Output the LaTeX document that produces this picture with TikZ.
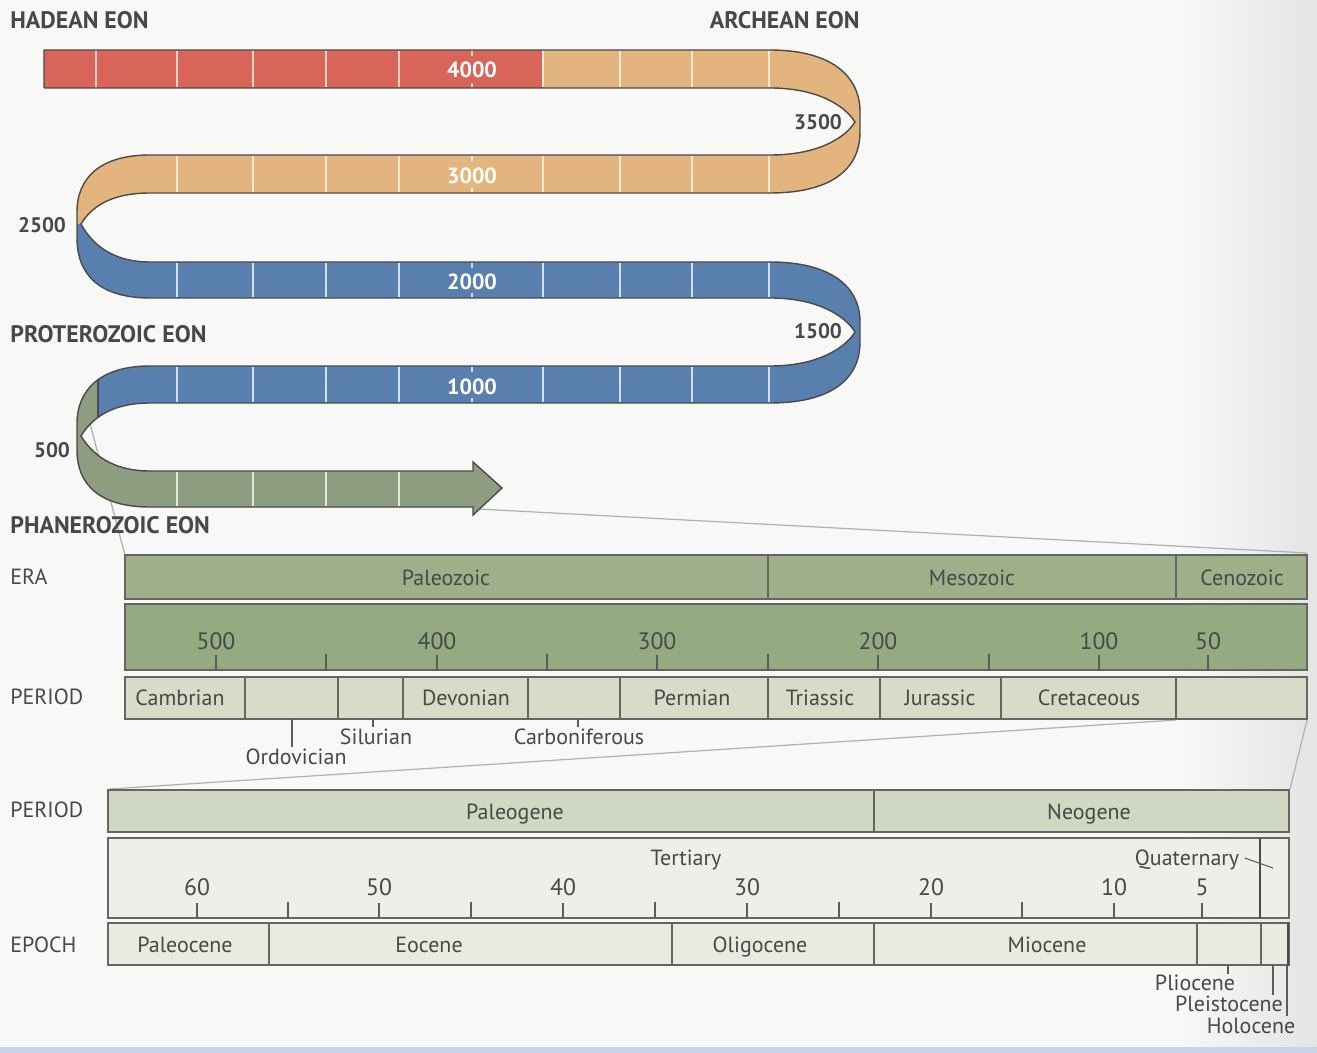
\documentclass[tikz,border=0pt]{standalone}
\usepackage{fontspec}
\setmainfont{PT Sans}
\definecolor{bgcol}{HTML}{F8F8F6}
\definecolor{bgright}{HTML}{E4E5E2}
\definecolor{bottomstrip}{HTML}{C6D6E6}
\definecolor{edge}{HTML}{4A4A4A}
\definecolor{textgrey}{HTML}{484848}
\definecolor{redband}{HTML}{D9645A}
\definecolor{orband}{HTML}{E4B47E}
\definecolor{blueband}{HTML}{587FAE}
\definecolor{grnband}{HTML}{8E9C80}
\definecolor{tickred}{HTML}{F4D2C4}
\definecolor{tickor}{HTML}{FAEBD0}
\definecolor{tickblue}{HTML}{CFE0F4}
\definecolor{tickgrn}{HTML}{E4EAD8}
\definecolor{eracol}{HTML}{9DB08A}
\definecolor{scalecol}{HTML}{94AA81}
\definecolor{percol}{HTML}{D6DCC8}
\definecolor{cperiod}{HTML}{D0D7C2}
\definecolor{cnum}{HTML}{EEEFE8}
\definecolor{cepoch}{HTML}{E8EBE0}
\definecolor{zoomline}{HTML}{B0B2AC}
\begin{document}
\begin{tikzpicture}[x=0.02cm,y=-0.02cm,
  lab/.style={text=textgrey, inner sep=0pt, text height=10pt, text depth=2pt, font=\fontsize{12.5}{14}\selectfont},
  eonlab/.style={text=textgrey, inner sep=0pt, anchor=west, font=\bfseries\fontsize{13.6}{15}\selectfont},
  numlab/.style={text=textgrey, inner sep=0pt, font=\bfseries\fontsize{12}{14}\selectfont},
  bandlab/.style={text=white, inner sep=0pt, font=\bfseries\fontsize{12.5}{14}\selectfont},
  scalelab/.style={text=textgrey, inner sep=0pt, font=\fontsize{13.5}{15}\selectfont},
  sidelab/.style={text=textgrey, inner sep=0pt, anchor=west, font=\fontsize{12.5}{14}\selectfont},
  rib/.style={draw=edge, line width=0.8pt},
  bar/.style={draw=edge!85, line width=0.9pt},
  tk/.style={line width=1pt},
  scaletick/.style={draw=edge!90, line width=0.8pt},
  leader/.style={draw=edge!90, line width=0.6pt},
  zl/.style={draw=zoomline, line width=0.7pt}]
% background
\useasboundingbox (0,0) rectangle (1317,1053);
\fill[bgcol] (0,0) rectangle (1317,1053);
\shade[left color=bgcol, right color=bgright] (1180,0) rectangle (1317,1047);
\fill[bottomstrip] (0,1047) rectangle (1317,1053);

% zoom lines (behind)
\coordinate (zA1) at (89,420);
\coordinate (zA2) at (125,555);
\coordinate (zB1) at (478,509);
\coordinate (zB2) at (1307,553);
\coordinate (zC1) at (1176,720);
\coordinate (zC2) at (110,789);
\coordinate (zD1) at (1307,720);
\coordinate (zD2) at (1290,789);
\draw[zl] (zA1) -- (zA2);
\draw[zl] (zB1) -- (zB2);
\draw[zl] (zC1) -- (zC2);
\draw[zl] (zD1) -- (zD2);

% ---------- ribbon ----------
% row 1
\fill[redband] (44,50) rectangle (543,88);
\fill[orband] (543,50) rectangle (770,88);
% turn A (3500)
\fill[orband] (770,50) .. controls (830,50) and (860,75) .. (860,112) -- (860,122) -- (855,122) .. controls (845,106) and (818,88) .. (770,88) -- cycle;
\fill[orband] (855,122) -- (860,122) -- (860,132) .. controls (860,170) and (830,193) .. (770,193) -- (770,155) .. controls (818,155) and (845,138) .. (855,122) -- cycle;
% row 2
\fill[orband] (150,155) rectangle (770,193);
% turn C (2500)
\fill[orband] (150,155) .. controls (100,155) and (77,178) .. (77,212) -- (77,224) -- (81,224) .. controls (92,206) and (112,193) .. (150,193) -- cycle;
\fill[blueband] (81,224) -- (77,224) -- (77,238) .. controls (77,275) and (100,298) .. (150,298) -- (150,262) .. controls (112,262) and (92,244) .. (81,224) -- cycle;
% row 3
\fill[blueband] (150,262) rectangle (770,298);
% turn B (1500)
\fill[blueband] (770,262) .. controls (830,262) and (860,286) .. (860,322) -- (860,332) -- (855,332) .. controls (845,316) and (818,298) .. (770,298) -- cycle;
\fill[blueband] (855,332) -- (860,332) -- (860,342) .. controls (860,380) and (830,403) .. (770,403) -- (770,366) .. controls (818,366) and (845,348) .. (855,332) -- cycle;
% row 4
\fill[blueband] (150,366) rectangle (770,403);
% turn D (500)
\fill[grnband] (150,366) .. controls (100,366) and (77,390) .. (77,424) -- (77,436) -- (81,436) .. controls (92,418) and (112,403) .. (150,403) -- cycle;
\begin{scope}
\clip (150,366) .. controls (100,366) and (77,390) .. (77,424) -- (77,436) -- (81,436) .. controls (92,418) and (112,403) .. (150,403) -- cycle;
\fill[blueband] (98,350) rectangle (151,420);
\draw[edge, line width=0.8pt] (98,350) -- (98,420);
\end{scope}
\fill[grnband] (81,436) -- (77,436) -- (77,450) .. controls (77,485) and (100,507) .. (150,507) -- (150,471) .. controls (112,471) and (92,454) .. (81,436) -- cycle;
% row 5 arrow
\fill[grnband] (150,471) -- (473,471) -- (473,462) -- (502,488) -- (473,515) -- (473,507) -- (150,507) -- cycle;

% ticks
\foreach \x in {96,177,253,326,399} \draw[tk,tickred] (\x,51) -- (\x,87);
\draw[tk,tickred] (472,51) -- (472,56) (472,83) -- (472,87);
\foreach \x in {543,620,692,769} \draw[tk,tickor] (\x,51) -- (\x,87);
\foreach \x in {177,253,326,399,543,620,692,769} \draw[tk,tickor] (\x,156) -- (\x,192);
\draw[tk,tickor] (472,156) -- (472,161) (472,188) -- (472,192);
\foreach \x in {177,253,326,399,543,620,692,769} \draw[tk,tickblue] (\x,263) -- (\x,297);
\draw[tk,tickblue] (472,263) -- (472,268) (472,293) -- (472,297);
\foreach \x in {177,253,326,399,543,620,692,769} \draw[tk,tickblue] (\x,367) -- (\x,402);
\draw[tk,tickblue] (472,367) -- (472,372) (472,398) -- (472,402);
\foreach \x in {177,253,326,399} \draw[tk,tickgrn] (\x,472) -- (\x,506);

% ribbon outlines
\draw[rib] (44,88) -- (44,50) -- (770,50) .. controls (830,50) and (860,75) .. (860,112) -- (860,132) .. controls (860,170) and (830,193) .. (770,193) -- (150,193);
\draw[rib] (44,88) -- (770,88) .. controls (818,88) and (845,106) .. (855,122) .. controls (845,138) and (818,155) .. (770,155) -- (150,155);
\draw[rib] (150,155) .. controls (100,155) and (77,178) .. (77,212) -- (77,238) .. controls (77,275) and (100,298) .. (150,298) -- (770,298);
\draw[rib] (150,193) .. controls (112,193) and (92,206) .. (81,224) .. controls (92,244) and (112,262) .. (150,262) -- (770,262);
\draw[rib] (770,262) .. controls (830,262) and (860,286) .. (860,322) -- (860,342) .. controls (860,380) and (830,403) .. (770,403) -- (150,403);
\draw[rib] (770,298) .. controls (818,298) and (845,316) .. (855,332) .. controls (845,348) and (818,366) .. (770,366) -- (150,366);
\draw[rib] (150,366) .. controls (100,366) and (77,390) .. (77,424) -- (77,450) .. controls (77,485) and (100,507) .. (150,507) -- (473,507) -- (473,515) -- (502,488) -- (473,462) -- (473,471) -- (150,471);
\draw[rib] (150,403) .. controls (112,403) and (92,418) .. (81,436) .. controls (92,454) and (112,471) .. (150,471);

% ribbon labels
\node[bandlab] (b4000) at (472,70) {4000};
\node[bandlab] (b3000) at (472,176) {3000};
\node[bandlab] (b2000) at (472,282) {2000};
\node[bandlab] (b1000) at (472,387) {1000};
\node[numlab] (n3500) at (818,122) {3500};
\node[numlab] (n2500) at (42,225) {2500};
\node[numlab] (n1500) at (818,331) {1500};
\node[numlab] (n500) at (52,450) {500};
\node[eonlab] (hadean) at (10,20) {HADEAN EON};
\node[eonlab, anchor=east] (archean) at (860,20) {ARCHEAN EON};
\node[eonlab] (protero) at (10,334) {PROTEROZOIC EON};
\node[eonlab] (phanero) at (10,525) {PHANEROZOIC EON};

% ---------- Phanerozoic scale ----------
\node[sidelab] (eralab) at (10,577) {ERA};
\node[sidelab] (perlab1) at (10,697) {PERIOD};
\draw[bar, fill=eracol] (125,555) rectangle (768,599);
\draw[bar, fill=eracol] (768,555) rectangle (1176,599);
\draw[bar, fill=eracol] (1176,555) rectangle (1307,599);
\node[lab] (paleozoic) at (446,578) {Paleozoic};
\node[lab] (mesozoic) at (972,578) {Mesozoic};
\node[lab] (cenozoic) at (1242,578) {Cenozoic};
\draw[bar, fill=scalecol] (125,604) rectangle (1307,670);
\foreach \x/\t in {216/500,437/400,657/300,878/200,1099/100,1208/50} {
  \node[scalelab] (s\t) at (\x,641) {\t};
  \draw[scaletick] (\x,655) -- (\x,670);
}
\foreach \x in {326,547,768,989} \draw[scaletick] (\x,654) -- (\x,670);
\draw[bar, fill=percol] (125,677) rectangle (1307,719);
\foreach \x in {245,338,403,528,620,768,880,1001,1176} \draw[bar] (\x,677) -- (\x,719);
\node[lab] (cambrian) at (180,698) {Cambrian};
\node[lab] (devonian) at (466,698) {Devonian};
\node[lab] (permian) at (692,698) {Permian};
\node[lab] (triassic) at (820,698) {Triassic};
\node[lab] (jurassic) at (940,698) {Jurassic};
\node[lab] (cretaceous) at (1089,698) {Cretaceous};
\coordinate (ordtop) at (292,719);
\coordinate (siltop) at (373,719);
\coordinate (cartop) at (578,719);
\node[lab, anchor=north] (ordovician) at (296,747) {Ordovician};
\node[lab, anchor=north] (silurian) at (376,727) {Silurian};
\node[lab, anchor=north] (carbon) at (579,727) {Carboniferous};
\draw[leader] (ordtop) -- (ordtop |- ordovician.north);
\draw[leader] (siltop) -- (siltop |- silurian.north);
\draw[leader] (cartop) -- (cartop |- carbon.north);

% ---------- Cenozoic scale ----------
\node[sidelab] (perlab2) at (10,810) {PERIOD};
\node[sidelab] (epochlab) at (10,945) {EPOCH};
\draw[bar, fill=cperiod] (108,790) rectangle (874,832);
\draw[bar, fill=cperiod] (874,790) rectangle (1289,832);
\node[lab] (paleogene) at (515,812) {Paleogene};
\node[lab] (neogene) at (1089,812) {Neogene};
\draw[bar, fill=cnum] (108,838) rectangle (1289,918);
\draw[edge, line width=1.4pt] (1260,838) -- (1260,918);
\node[lab] (tertiary) at (686,858) {Tertiary};
\node[lab] (quaternary) at (1187,858) {Quaternary};
\coordinate (quatpt) at (1273,868);
\coordinate (quatst) at ([xshift=3pt]quaternary.east);
\draw[leader] (quatst) -- (quatpt);
\foreach \x/\t in {197/60,379/50,563/40,747/30,931/20,1114/10,1202/5} {
  \node[scalelab] (c\t) at (\x,887) {\t};
  \draw[scaletick] (\x,903) -- (\x,918);
}
\foreach \x in {288,471,655,839,1022} \draw[scaletick] (\x,902) -- (\x,918);
\draw[bar, fill=cepoch] (108,923) rectangle (1289,965);
\foreach \x in {269,672,874,1197,1261} \draw[bar] (\x,923) -- (\x,965);
\draw[edge, line width=1.4pt] (1288,923) -- (1288,965);
\node[lab] (paleocene) at (185,945) {Paleocene};
\node[lab] (eocene) at (429,945) {Eocene};
\node[lab] (oligocene) at (760,945) {Oligocene};
\node[lab] (miocene) at (1047,945) {Miocene};
\node[lab] (pliocene) at (1195,983) {Pliocene};
\node[lab] (pleisto) at (1229,1004) {Pleistocene};
\node[lab] (holocene) at (1251,1026) {Holocene};
\coordinate (pliotop) at (1228,965);
\coordinate (pleitop) at (1273,965);
\coordinate (holotop) at (1287,965);
\coordinate (pliobot) at (1228,974);
\coordinate (pleibot) at (1273,995);
\coordinate (holobot) at (1287,1016);
\draw[leader] (pliotop) -- (pliobot);
\draw[leader] (pleitop) -- (pleibot);
\draw[leader] (holotop) -- (holobot);
\end{tikzpicture}
\end{document}
